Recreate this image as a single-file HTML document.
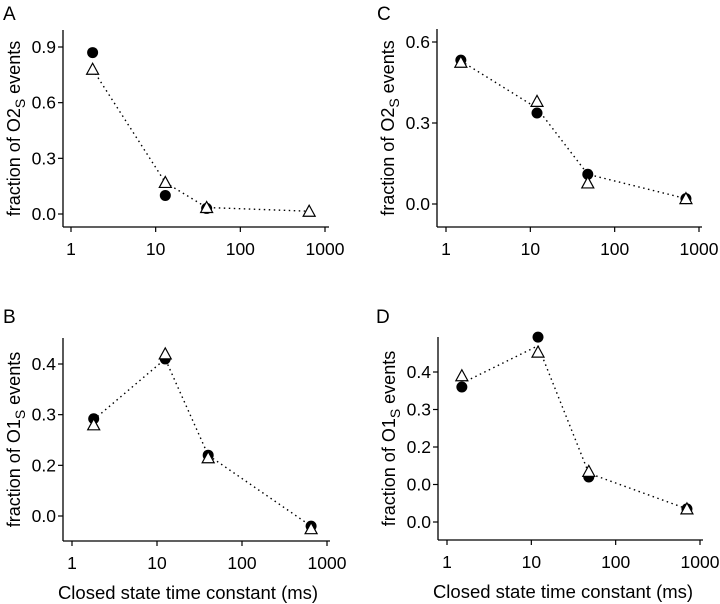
<!DOCTYPE html>
<html><head><meta charset="utf-8"><style>
body{margin:0;background:#fff;}
svg{display:block;font-family:"Liberation Sans",Arial,sans-serif;}
</style></head><body>
<svg id="fig" width="720" height="604" viewBox="0 0 720 604" xmlns="http://www.w3.org/2000/svg"></svg>
<script>
// Panel A data
const xA = [1.8, 13, 40, 650];
const circA = [0.87, 0.10, 0.03, null];
const triA = [0.78, 0.17, 0.035, 0.015];
const lineA = [0.78, 0.17, 0.035, 0.015];
const ticksA = [0.0, 0.3, 0.6, 0.9];
const tickLabelsA = ["0.0", "0.3", "0.6", "0.9"];
// Panel B data
const xB = [1.8, 12.5, 40, 650];
const circB = [0.292, 0.41, 0.22, 0.08];
const triB = [0.28, 0.42, 0.215, 0.075];
const lineB = [0.29, 0.41, 0.22, 0.08];
const ticksB = [0.1, 0.2, 0.3, 0.4];
const tickLabelsB = ["0.0", "0.2", "0.3", "0.4"];
// Panel C data
const xC = [1.5, 12, 48, 700];
const circC = [0.533, 0.337, 0.11, 0.02];
const triC = [0.525, 0.38, 0.078, 0.02];
const lineC = [0.53, 0.355, 0.11, 0.02];
const ticksC = [0.0, 0.3, 0.6];
const tickLabelsC = ["0.0", "0.3", "0.6"];
// Panel D data
const xD = [1.5, 12, 48, 700];
const circD = [0.36, 0.493, 0.12, 0.035];
const triD = [0.39, 0.453, 0.135, 0.035];
const lineD = [0.37, 0.47, 0.13, 0.035];
const ticksD = [0.0, 0.1, 0.2, 0.3, 0.4];
const tickLabelsD = ["0.0", "0.0", "0.2", "0.3", "0.4"];
const xTicks = [1, 10, 100, 1000];
const xTickLabels = ["1", "10", "100", "1000"];

const NS = "http://www.w3.org/2000/svg";
const svg = document.getElementById("fig");
function mk(tag, attrs, parent){
  const e = document.createElementNS(NS, tag);
  for (const k in attrs) e.setAttribute(k, attrs[k]);
  (parent||svg).appendChild(e);
  return e;
}

function panel(p){
  const g = mk("g", {});
  
  
  const sx = v => p.x1 + (Math.log10(v)) / 3 * (p.x1000 - p.x1);
  const sy = v => p.y0 + (v - p.v0) / (p.v1 - p.v0) * (p.y1 - p.y0);
  const lt = mk("text", {x: p.lx, y: p.ly, "font-size": 19}, g);
  lt.textContent = p.id;
  
  
  const ya = mk("line", {x1: p.ax, y1: p.top, x2: p.ax, y2: p.bot, stroke: "#000", "stroke-width": 1.3}, g);
  
  
  const xa = mk("line", {x1: p.ax, y1: p.bot, x2: p.right, y2: p.bot, stroke: "#000", "stroke-width": 1.3}, g);
  
  
  p.ticks.forEach((v, i) => {
    const y = sy(v);
    mk("line", {x1: p.ax - 5, y1: y, x2: p.ax, y2: y, stroke: "#000", "stroke-width": 1.2}, g);
    const t = mk("text", {x: p.ax - 7, y: y + 6, "font-size": 17.5, "text-anchor": "end"}, g);
    t.textContent = p.tickLabels[i];
    
    
  });
  xTicks.forEach((v, i) => {
    const x = sx(v);
    mk("line", {x1: x, y1: p.bot, x2: x, y2: p.bot + 5, stroke: "#000", "stroke-width": 1.2}, g);
    const t = mk("text", {x: x, y: p.bot + 28, "font-size": 17.5, "text-anchor": "middle"}, g);
    t.textContent = xTickLabels[i];
    
    
  });
  const cy = (p.top + p.bot) / 2;
  const yt = mk("text", {x: 0, y: 0, "font-size": 18, "text-anchor": "middle", transform: `translate(${p.ax - 43},${cy}) rotate(-90)`}, g);
  
  
  yt.appendChild(document.createTextNode("fraction of " + p.species));
  const sub = mk("tspan", {"font-size": 14, dy: 5}, yt); sub.textContent = "S";
  const rest = mk("tspan", {dy: -5}, yt); rest.textContent = " events";
  if (p.xlabel) {
    const xt = mk("text", {x: p.ax + 125, y: p.bot + 58, "font-size": 18.5, "text-anchor": "middle"}, g);
    xt.textContent = "Closed state time constant (ms)";
    
    
  }
  const pts = p.xs.map((x, i) => sx(x) + "," + sy(p.line[i])).join(" ");
  const pl = mk("polyline", {points: pts, fill: "none", stroke: "#000", "stroke-width": 1.4, "stroke-dasharray": "1.5,3.5"}, g);
  
  
  p.xs.forEach((x, i) => {
    if (p.circ[i] !== null) {
      const c = mk("circle", {cx: sx(x), cy: sy(p.circ[i]), r: 5.5, fill: "#000"}, g);
      
      
    }
  });
  p.xs.forEach((x, i) => {
    if (p.tri[i] !== null) {
      const X = sx(x), Y = sy(p.tri[i]);
      const tr = mk("polygon", {points: `${X},${Y-6} ${X-6},${Y+5} ${X+6},${Y+5}`, fill: "#fff", stroke: "#000", "stroke-width": 1.2}, g);
      
      
    }
  });
}

panel({id:"A", lx:3, ly:20, ax:63, top:30, bot:227, right:329, x1:71, x1000:325,
  v0:0, v1:0.9, y0:214, y1:47, ticks:ticksA, tickLabels:tickLabelsA, species:"O2",
  xs:xA, circ:circA, tri:triA, line:lineA, xlabel:false});
panel({id:"B", lx:3, ly:323, ax:63, top:338, bot:541, right:330, x1:72, x1000:327,
  v0:0.1, v1:0.4, y0:516, y1:364, ticks:ticksB, tickLabels:tickLabelsB, species:"O1",
  xs:xB, circ:circB, tri:triB, line:lineB, xlabel:true});
panel({id:"C", lx:377, ly:20, ax:437, top:29, bot:227, right:702, x1:446, x1000:699,
  v0:0, v1:0.6, y0:204, y1:42, ticks:ticksC, tickLabels:tickLabelsC, species:"O2",
  xs:xC, circ:circC, tri:triC, line:lineC, xlabel:false});
panel({id:"D", lx:376, ly:323, ax:438, top:337, bot:540, right:703, x1:447, x1000:700,
  v0:0, v1:0.4, y0:522, y1:372, ticks:ticksD, tickLabels:tickLabelsD, species:"O1",
  xs:xD, circ:circD, tri:triD, line:lineD, xlabel:true});
</script>
</body></html>
